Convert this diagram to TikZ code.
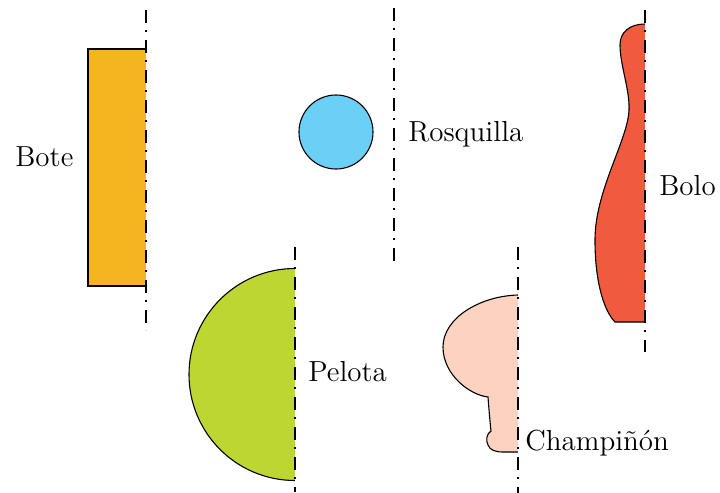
\documentclass[tikz,border=0pt]{standalone}
\usetikzlibrary{positioning}
\definecolor{boteorange}{HTML}{F5B521}
\definecolor{rosqblue}{HTML}{6BCFF6}
\definecolor{bolored}{HTML}{F05A3E}
\definecolor{pelotagreen}{HTML}{BED631}
\definecolor{champpink}{HTML}{FCD3C1}
\tikzset{
    x=0.5pt,
    y=-0.5pt,
    axis/.style = {
        draw,
        line width=1.1pt,
        dash pattern=on 6.5pt off 3.5pt on 1pt off 4pt
    },
    piece/.style = {
        draw,
        line width=0.55pt
    },
    lbl/.style = {
        anchor=base west,
        inner sep=0pt,
        font=\fontsize{14.5}{17}\selectfont
    },
}

\begin{document}
\begin{tikzpicture}
            \useasboundingbox (0,0) rectangle (720,493);

            % ejes
            \coordinate (botetop) at (146,10);
            \coordinate (botebot) at (146,330);
            \coordinate (rosqtop) at (394,8);
            \coordinate (rosqbot) at (394,262);
            \coordinate (bolotop) at (645,10);
            \coordinate (bolobot) at (645,352);
            \coordinate (pelotop) at (295,247);
            \coordinate (pelobot) at (295,492);
            \coordinate (champtop) at (518,247);
            \coordinate (champbot) at (518,493);

            % Bote
            \path[fill=boteorange] (146,49) -- (88,49) -- (88,286) -- (146,286) -- cycle;
            \path[piece] (146,49) -- (88,49) -- (88,286) -- (146,286);

            % Rosquilla
            \path[piece, fill=rosqblue] (336,132) circle[radius=37];

            % Bolo
            \path[fill=bolored] (645,24) .. controls (630,24) and (620,32) .. (620,45)
            .. controls (620,65) and (630,90) .. (629,110)
            .. controls (628,140) and (595,190) .. (595,240)
            .. controls (595,285) and (605,312) .. (615,322) -- (645,322) -- cycle;
            \path[piece] (645,24) .. controls (630,24) and (620,32) .. (620,45)
            .. controls (620,65) and (630,90) .. (629,110)
            .. controls (628,140) and (595,190) .. (595,240)
            .. controls (595,285) and (605,312) .. (615,322) -- (645,322);

            % Pelota
            \path[fill=pelotagreen] (295,480.5) arc[start angle=90, end angle=270, radius=106] -- cycle;
            \path[piece] (295,480.5) arc[start angle=90, end angle=270, radius=106];

            % Champinon
            \path[fill=champpink] (518,295) .. controls (480,296) and (443,318) .. (443,347)
            .. controls (443,375) and (470,395) .. (488,397)
            .. controls (489,410) and (490,422) .. (491,431)
            .. controls (486,434) and (486,441) .. (488,445)
            .. controls (490,450) and (495,452) .. (503,452) -- (518,452) -- cycle;
            \path[piece] (518,295) .. controls (480,296) and (443,318) .. (443,347)
            .. controls (443,375) and (470,395) .. (488,397)
            .. controls (489,410) and (490,422) .. (491,431)
            .. controls (486,434) and (486,441) .. (488,445)
            .. controls (490,450) and (495,452) .. (503,452) -- (518,452);

            \path[axis] (botetop) -- (botebot);
            \path[axis] (rosqtop) -- (rosqbot);
            \path[axis] (bolotop) -- (bolobot);
            \path[axis] (pelotop) -- (pelobot);
            \path[axis] (champtop) -- (champbot);

            \node[lbl] (bote) at (15,166) {Bote};
            \node[lbl] (rosq) at (408,141) {Rosquilla};
            \node[lbl] (bolo) at (659,195) {Bolo};
            \node[lbl] (pelota) at (308,381) {Pelota};
            \node[lbl] (champ) at (525,450) {Champiñón};
\end{tikzpicture}
\end{document}
